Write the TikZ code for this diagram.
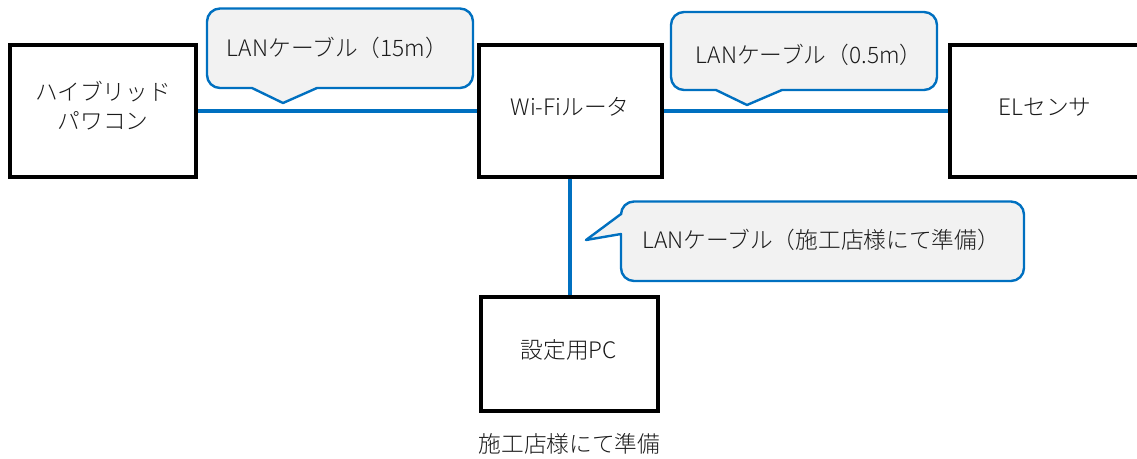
\documentclass[tikz,border=0pt]{standalone}
\usepackage{fontspec}
\setmainfont{Noto Sans CJK JP Light}
\definecolor{cblue}{HTML}{0070C0}
\definecolor{cfill}{HTML}{F2F2F2}
\definecolor{ctext}{HTML}{1A1A1A}
\tikzset{
  devbox/.style={draw=black,fill=white,line width=4pt,rectangle,inner sep=0pt},
  cable/.style={draw=cblue,line width=4pt},
  balloon/.style={draw=cblue,fill=cfill,line width=2.4pt,line join=round},
  lbl/.style={text=ctext,font=\fontsize{22.7pt}{29pt}\selectfont,inner sep=0pt,align=center},
}
\begin{document}
\begin{tikzpicture}[x=1pt,y=-1pt]
\useasboundingbox (0,0) rectangle (1137,458);
% devices
\node[devbox,minimum width=186pt,minimum height=132pt] (hy) at (103,110.5) {};
\node[devbox,minimum width=183pt,minimum height=132pt] (wf) at (570.5,110.5) {};
\node[devbox,minimum width=200pt,minimum height=132pt] (el) at (1050,110.5) {};
\node[devbox,minimum width=177pt,minimum height=114pt] (pc) at (569.5,354) {};
% cables
\path[cable] (hy.east) -- (wf.west);
\path[cable] (wf.east) -- (el.west);
\path[cable] (pc.north |- wf.south) -- (pc.north);
% balloons
\path[balloon] (220,8.5) -- (460,8.5) arc[start angle=-90,end angle=0,radius=13] -- (473,75)
  arc[start angle=0,end angle=90,radius=13] -- (317,88) -- (283,103) -- (252,88) -- (220,88)
  arc[start angle=90,end angle=180,radius=13] -- (207,21.5) arc[start angle=180,end angle=270,radius=13] -- cycle;
\path[balloon] (684,12) -- (924,12) arc[start angle=-90,end angle=0,radius=13] -- (937,77)
  arc[start angle=0,end angle=90,radius=13] -- (782,90) -- (747,105) -- (716,90) -- (684,90)
  arc[start angle=90,end angle=180,radius=13] -- (671,25) arc[start angle=180,end angle=270,radius=13] -- cycle;
\path[balloon] (634,201.5) -- (1011,201.5) arc[start angle=-90,end angle=0,radius=13] -- (1024,268)
  arc[start angle=0,end angle=90,radius=13] -- (634,281) arc[start angle=90,end angle=180,radius=13]
  -- (621,234) -- (586,240) -- (621,214) -- (621,214.5) arc[start angle=180,end angle=270,radius=13] -- cycle;
% labels
\node[lbl] (t1) at (103,106) {ハイブリッド\\パワコン};
\node[lbl] (t2) at (570,107) {Wi-Fiルータ};
\node[lbl] (t3) at (1045,107) {ELセンサ};
\node[lbl] (t4) at (569,350) {設定用PC};
\node[lbl] (t5) at (569.5,444) {施工店様にて準備};
\node[lbl] (c1) at (337.5,48) {LANケーブル（15m）};
\node[lbl] (c2) at (809,55) {LANケーブル（0.5m）};
\node[lbl] (c3) at (821,240) {LANケーブル（施工店様にて準備）};
\end{tikzpicture}
\end{document}
